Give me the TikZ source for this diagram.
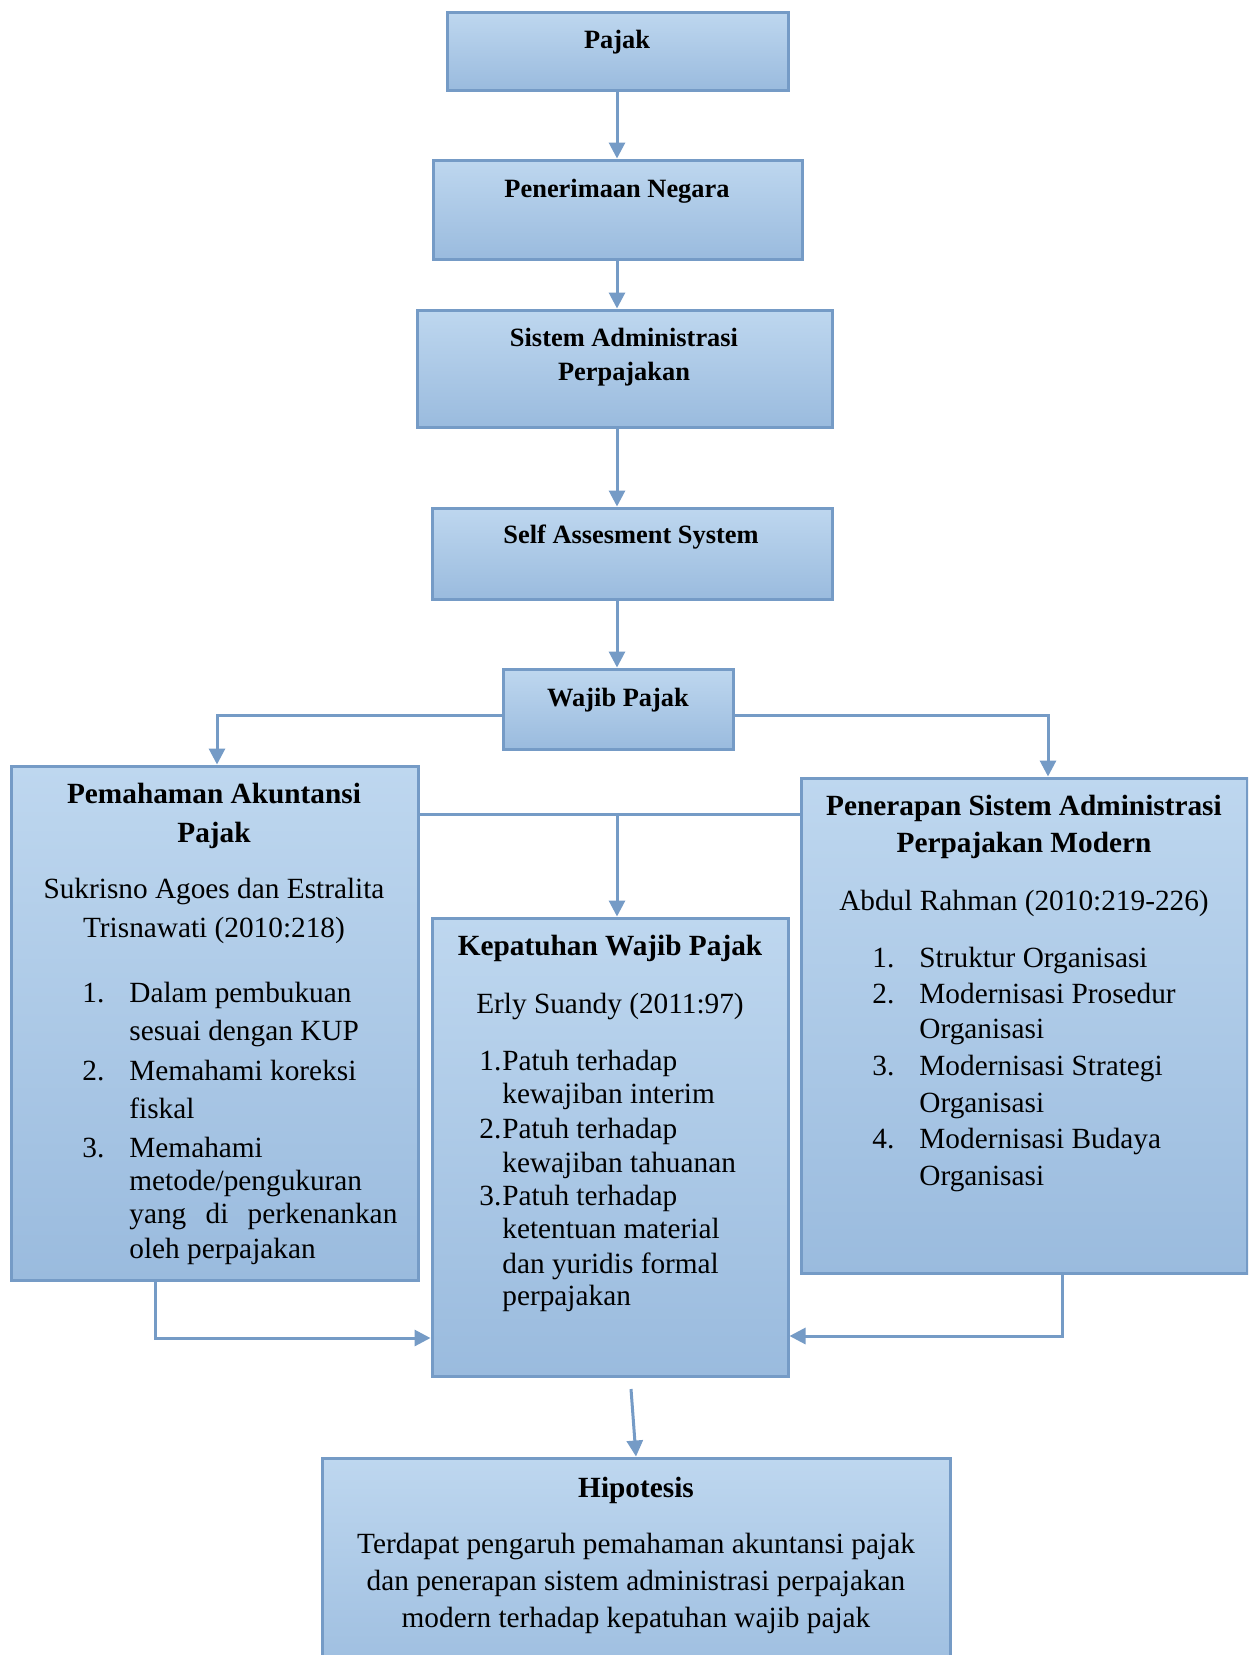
\documentclass[tikz,border=0pt]{standalone}
\usepackage{fontspec}
\setmainfont{Liberation Serif}
\usetikzlibrary{arrows.meta,fit,calc}
\definecolor{bord}{RGB}{117,155,198}
\definecolor{topc}{RGB}{190,215,239}
\definecolor{botc}{RGB}{154,187,222}
\tikzset{
 bx/.style={draw=bord, line width=1.5pt, top color=topc, bottom color=botc, inner sep=0pt},
 conn/.style={draw=bord, line width=1.5pt},
 arr/.style={conn, -{Triangle[length=8pt,width=8pt]}},
 tt/.style={font=\fontsize{13.2}{15}\selectfont\bfseries, anchor=base, inner sep=0pt},
 bt/.style={font=\fontsize{14.65}{17}\selectfont\bfseries, anchor=base, inner sep=0pt},
 bd/.style={font=\fontsize{14.65}{17}\selectfont, anchor=base, inner sep=0pt},
 bl/.style={font=\fontsize{14.65}{17}\selectfont, anchor=base west, inner sep=0pt},
}
\begin{document}
\begin{tikzpicture}[x=0.5pt,y=-0.5pt]
\useasboundingbox (0,0) rectangle (1248,1655);
\clip (0,0) rectangle (1248,1655);
\fill[white] (0,0) rectangle (1248,1655);

% boxes
\node[bx, fit={(447,12)(788,90)}] (pajak) {};
\node[bx, fit={(433,160)(802,259)}] (pener) {};
\node[bx, fit={(417,310)(832,427)}] (sis) {};
\node[bx, fit={(432,508)(832,599)}] (self) {};
\node[bx, fit={(503,669)(733,749)}] (wajib) {};
\node[bx, fit={(11,766)(418,1280)}] (pem) {};
\node[bx, fit={(432,918)(788,1376)}] (kep) {};
\node[bx, fit={(801,778)(1247,1273)}] (pen) {};
\node[bx, fit={(322,1458)(950,1700)}] (hip) {};

% coordinates for bends
\coordinate (cx) at (617,0);
\coordinate (hm) at (617,814);
\coordinate (lb) at (155,1338);
\coordinate (rb) at (1062,1336);
\coordinate (kb) at (631,1389);
\coordinate (wl) at (217,715);
\coordinate (wr) at (1048,715);

% connectors
\draw[arr] (pajak.south -| cx) -- (pener.north -| cx);
\draw[arr] (pener.south -| cx) -- (sis.north -| cx);
\draw[arr] (sis.south -| cx) -- (self.north -| cx);
\draw[arr] (self.south -| cx) -- (wajib.north -| cx);
\draw[arr] (wajib.west |- wl) -- (wl) -- (pem.north -| wl);
\draw[arr] (wajib.east |- wr) -- (wr) -- (pen.north -| wr);
\draw[conn] (pem.east |- hm) -- (pen.west |- hm);
\draw[arr] (hm) -- (kep.north -| hm);
\draw[arr] (pem.south -| lb) -- (lb) -- (kep.west |- lb);
\draw[arr] (pen.south -| rb) -- (rb) -- (kep.east |- rb);
\draw[arr] (kb) -- (hip.north);

% small titles
\node[tt] (t1) at (617,48) {Pajak};
\node[tt] (t2) at (617,197) {Penerimaan Negara};
\node[tt] (t3a) at (624,346) {Sistem Administrasi};
\node[tt] (t3b) at (624,380) {Perpajakan};
\node[tt] (t4) at (631,543) {Self Assesment System};
\node[tt] (t5) at (618,706) {Wajib Pajak};

% Pemahaman
\node[bt] (pa1) at (214,803) {Pemahaman Akuntansi};
\node[bt] (pa2) at (214,842) {Pajak};
\node[bd] (pa3) at (214,898) {Sukrisno Agoes dan Estralita};
\node[bd] (pa4) at (214,937) {Trisnawati (2010:218)};
\node[bl] (pn1) at (82,1002) {1.};
\node[bl] (pl1) at (129,1002) {Dalam pembukuan};
\node[bl] (pl2) at (129,1040) {sesuai dengan KUP};
\node[bl] (pn2) at (82,1080) {2.};
\node[bl] (pl3) at (129,1080) {Memahami koreksi};
\node[bl] (pl4) at (129,1118) {fiskal};
\node[bl] (pn3) at (82,1157) {3.};
\node[bl] (pl5) at (129,1157) {Memahami};
\node[bl] (pl6) at (129,1190) {metode/pengukuran};
\node[bl] (pl7) at (129,1223) {\makebox[134pt][s]{yang di perkenankan}};
\node[bl] (pl8) at (129,1258) {oleh perpajakan};

% Kepatuhan
\node[bt] (ka1) at (610,955) {Kepatuhan Wajib Pajak};
\node[bd] (ka2) at (610,1013) {Erly Suandy (2011:97)};
\node[bl] (kn1) at (479,1070) {1.};
\node[bl] (kl1) at (502,1070) {Patuh terhadap};
\node[bl] (kl2) at (502,1103) {kewajiban interim};
\node[bl] (kn2) at (479,1138) {2.};
\node[bl] (kl3) at (502,1138) {Patuh terhadap};
\node[bl] (kl4) at (502,1172) {kewajiban tahuanan};
\node[bl] (kn3) at (479,1205) {3.};
\node[bl] (kl5) at (502,1205) {Patuh terhadap};
\node[bl] (kl6) at (502,1238) {ketentuan material};
\node[bl] (kl7) at (502,1273) {dan yuridis formal};
\node[bl] (kl8) at (502,1305) {perpajakan};

% Penerapan
\node[bt] (ea1) at (1024,815) {Penerapan Sistem Administrasi};
\node[bt] (ea2) at (1024,852) {Perpajakan Modern};
\node[bd] (ea3) at (1024,910) {Abdul Rahman (2010:219-226)};
\node[bl] (en1) at (872,967) {1.};
\node[bl] (el1) at (919,967) {Struktur Organisasi};
\node[bl] (en2) at (872,1003) {2.};
\node[bl] (el2) at (919,1003) {Modernisasi Prosedur};
\node[bl] (el3) at (919,1038) {Organisasi};
\node[bl] (en3) at (872,1075) {3.};
\node[bl] (el4) at (919,1075) {Modernisasi Strategi};
\node[bl] (el5) at (919,1112) {Organisasi};
\node[bl] (en4) at (872,1148) {4.};
\node[bl] (el6) at (919,1148) {Modernisasi Budaya};
\node[bl] (el7) at (919,1185) {Organisasi};

% Hipotesis
\node[bt] (h1) at (636,1497) {Hipotesis};
\node[bd] (h2) at (636,1553) {Terdapat pengaruh pemahaman akuntansi pajak};
\node[bd] (h3) at (636,1590) {dan penerapan sistem administrasi perpajakan};
\node[bd] (h4) at (636,1627) {modern terhadap kepatuhan wajib pajak};
\end{tikzpicture}
\end{document}
